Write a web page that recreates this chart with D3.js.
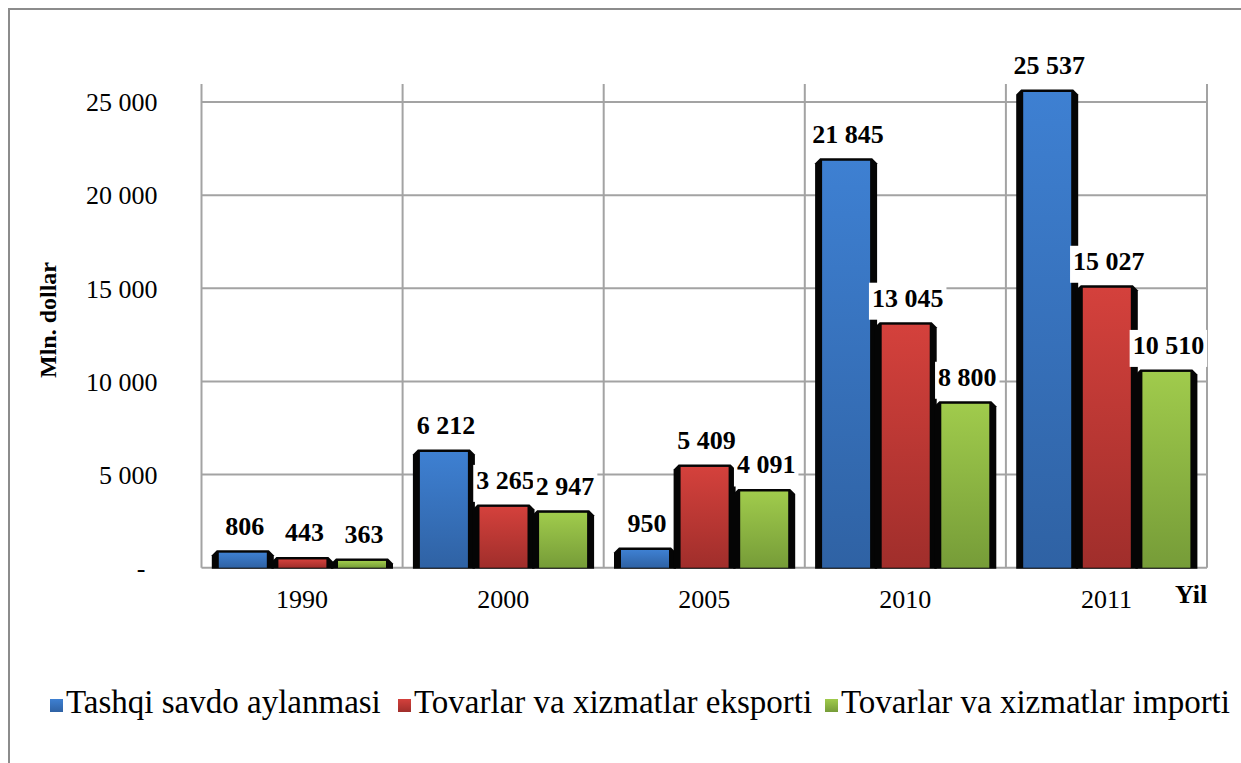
<!DOCTYPE html>
<html>
<head>
  <style>
    body { margin: 0; background: #fff; }
    text { font-family: "Liberation Serif", "Times New Roman", serif; }
  </style>
</head>
<body>
  <script src="https://d3js.org/d3.v7.min.js"></script>
  <script>
    // chart data
    const years = ["1990", "2000", "2005", "2010", "2011"];
    const seriesNames = ["Tashqi savdo aylanmasi", "Tovarlar va xizmatlar eksporti", "Tovarlar va xizmatlar importi"];
    const turnover = [806, 6212, 950, 21845, 25537];
    const exportsV = [443, 3265, 5409, 13045, 15027];
    const importsV = [363, 2947, 4091, 8800, 10510];
    const yTicks = [0, 5000, 10000, 15000, 20000, 25000];

    const w = 1241, h = 763;
    const plotL = 201.5, plotR = 1207, plotT = 84, plotB = 567.7;

    const svg = d3.select("body").append("svg")
      .attr("width", w).attr("height", h);

    // gradients for the bars
    const colors = [["#3e80d2", "#2f62a4"], ["#d4413c", "#a02e2b"], ["#a0cb4c", "#769c38"]];
    const defs = svg.append("defs");
    colors.forEach((c, i) => {
      const g = defs.append("linearGradient").attr("id", "g" + i)
        .attr("x1", 0).attr("y1", 0).attr("x2", 0).attr("y2", 1);
      g.append("stop").attr("offset", "0%").attr("stop-color", c[0]);
      g.append("stop").attr("offset", "100%").attr("stop-color", c[1]);
    });

    // outer frame (runs off the picture on the right and bottom)
    svg.append("rect")
      .attr("x", 9).attr("y", 9).attr("width", 1260).attr("height", 800)
      .attr("fill", "none").attr("stroke", "#8c8c8c").attr("stroke-width", 2);

    const x = d3.scaleBand().domain(years).range([plotL, plotR]);
    const xs = d3.scaleBand().domain([0, 1, 2]).range([10.3, 10.3 + 3 * 59.6]);
    const y = d3.scaleLinear().domain([0, 25000]).range([plotB, 102]);

    // grid
    svg.append("g").selectAll("line")
      .data(yTicks).enter().append("line")
      .attr("x1", plotL).attr("x2", plotR)
      .attr("y1", d => y(d)).attr("y2", d => y(d))
      .attr("stroke", "#a3a3a3").attr("stroke-width", 2);
    svg.append("g").selectAll("line")
      .data(years.map(d => x(d)).concat([plotR])).enter().append("line")
      .attr("x1", d => d).attr("x2", d => d)
      .attr("y1", plotT).attr("y2", plotB)
      .attr("stroke", "#a3a3a3").attr("stroke-width", 2);

    // y axis labels
    const yAxis = d3.axisLeft(y).tickValues(yTicks).tickSize(0).tickPadding(44)
      .tickFormat(d => d === 0 ? "-" : d3.format(",")(d).replace(/,/g, " "));
    const ya = svg.append("g").attr("transform", "translate(" + plotL + ",0)").call(yAxis);
    ya.select(".domain").remove();
    ya.selectAll("text")
      .attr("font-size", 26).attr("fill", "#000")
      .style("font-family", "'Liberation Serif', 'Times New Roman', serif")
      .attr("dy", "0.34em")
      .attr("dx", d => d === 0 ? -12 : 0);

    // x axis labels
    const xAxis = d3.axisBottom(x).tickSize(0).tickPadding(22);
    const xa = svg.append("g").attr("transform", "translate(0," + plotB + ")").call(xAxis);
    xa.select(".domain").remove();
    xa.selectAll("text")
      .attr("font-size", 26).attr("fill", "#000")
      .style("font-family", "'Liberation Serif', 'Times New Roman', serif");

    // axis titles
    svg.append("text")
      .attr("transform", "translate(56,320) rotate(-90)")
      .attr("text-anchor", "middle")
      .attr("font-size", 24).attr("font-weight", "bold")
      .text("Mln. dollar");
    svg.append("text")
      .attr("x", 1175).attr("y", 603)
      .attr("font-size", 26).attr("font-weight", "bold")
      .text("Yil");

    // bars
    const series = [turnover, exportsV, importsV];
    const bars = [];
    years.forEach((yr, i) => {
      series.forEach((s, k) => {
        bars.push({ yr: yr, k: k, v: s[i] });
      });
    });

    const barG = svg.append("g");
    bars.forEach(d => {
      const x0 = x(d.yr) + xs(d.k);
      const t = y(d.v);
      const b = plotB + 1;
      const bt = t - 2.5, bv = Math.min(5, (b - bt) / 2);
      // dark body behind the coloured face
      const p = d3.path();
      p.moveTo(x0, b);
      p.lineTo(x0, bt + bv);
      p.lineTo(x0 + bv, bt);
      p.lineTo(x0 + 62 - bv, bt);
      p.lineTo(x0 + 62, bt + bv);
      p.lineTo(x0 + 62, b);
      p.closePath();
      barG.append("path").attr("d", p.toString()).attr("fill", "#050505");
      barG.append("rect")
        .attr("x", x0 + 7).attr("y", t)
        .attr("width", 48).attr("height", plotB - t)
        .attr("fill", "url(#g" + d.k + ")");
    });

    // value labels with white boxes
    const labG = svg.append("g");
    bars.forEach(d => {
      const cx = x(d.yr) + xs(d.k) + 33;
      const base = y(d.v) - 18;
      const g = labG.append("g");
      const r = g.append("rect").attr("fill", "#fff");
      const tx = g.append("text")
        .attr("x", cx).attr("y", base)
        .attr("text-anchor", "middle")
        .attr("font-size", 26).attr("font-weight", "bold")
        .text(d3.format(",")(d.v).replace(/,/g, " "));
      const bb = tx.node().getBBox();
      r.attr("x", bb.x - 3).attr("y", base - 24)
        .attr("width", bb.width + 6).attr("height", 37);
    });

    // legend
    const legX = [50, 398, 825];
    const leg = svg.append("g");
    seriesNames.forEach((n, i) => {
      leg.append("rect")
        .attr("x", legX[i]).attr("y", 699)
        .attr("width", 13).attr("height", 13)
        .attr("fill", "url(#g" + i + ")");
      leg.append("text")
        .attr("x", legX[i] + 16).attr("y", 713)
        .attr("font-size", 33)
        .text(n);
    });
  </script>
</body>
</html>
